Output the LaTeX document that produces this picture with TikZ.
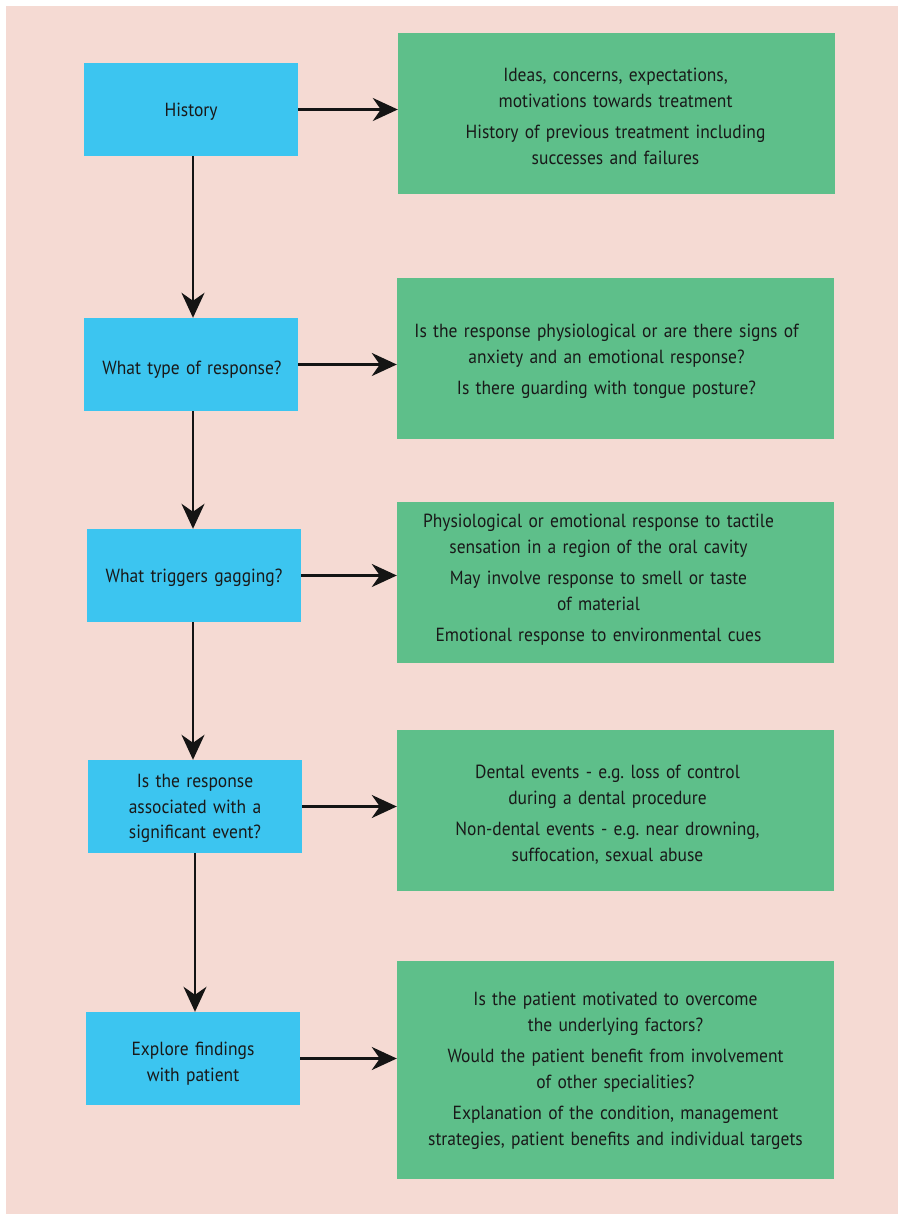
\documentclass[tikz,border=0pt]{standalone}
\usepackage{fontspec}
\setmainfont[FakeStretch=0.92]{PT Sans}
\usetikzlibrary{arrows.meta}
\definecolor{bgpink}{HTML}{F5DAD3}
\definecolor{qblue}{HTML}{3CC5F0}
\definecolor{agreen}{HTML}{5EBF8A}
\definecolor{arrowk}{HTML}{141414}
\begin{document}
\frenchspacing
\begin{tikzpicture}[x=1pt,y=-1pt,
  qbox/.style={fill=qblue, minimum width=214pt, minimum height=93pt, inner sep=0pt},
  abox/.style={fill=agreen, minimum width=437pt, inner sep=0pt},
  qtxt/.style={inner sep=0pt, text width=204pt, align=center, font=\fontsize{19}{25.5}\selectfont, text=black!90},
  atxt/.style={inner sep=0pt, text width=430pt, align=center, font=\fontsize{19}{26}\selectfont, text=black!90},
  flow/.style={draw=arrowk, line width=2.6pt, -{Stealth[length=25pt,width=23pt,inset=8pt]}}]
\useasboundingbox (0,0) rectangle (899,1215);
\fill[white] (0,0) rectangle (899,1215);
\fill[bgpink] (6,6) rectangle (898,1214);

\node[qbox] (h1) at (191,109.5) {};
\node[qbox] (h2) at (191,364.5) {};
\node[qbox] (h3) at (194,575.5) {};
\node[qbox] (h4) at (195,806.5) {};
\node[qbox] (h5) at (193,1058.5) {};
\node[qtxt] (t1) at ([yshift=-2pt]h1.center) {History};
\node[qtxt] (t2) at ([yshift=-5pt,xshift=1pt]h2.center) {What type of response?};
\node[qtxt] (t3) at ([yshift=-2pt]h3.center) {What triggers gagging?};
\node[qtxt] (t4) at ([yshift=-2pt]h4.center) {Is the response\\associated with a\\significant event?};
\node[qtxt] (t5) at ([yshift=-5pt]h5.center) {Explore findings\\with patient};

\node[abox, minimum height=161pt] (r1) at (616.5,113.5) {};
\node[abox, minimum height=161pt] (r2) at (615.5,358.5) {};
\node[abox, minimum height=161pt] (r3) at (615.5,582.5) {};
\node[abox, minimum height=161pt] (r4) at (615.5,810.5) {};
\node[abox, minimum height=218pt] (r5) at (615.5,1070) {};
\node[atxt] (a1) at ([yshift=-3pt,xshift=-1pt]r1.center) {Ideas, concerns, expectations,\\motivations towards treatment\\[5pt]History of previous treatment including\\successes and failures};
\node[atxt] (a2) at ([yshift=-3pt,xshift=-9pt]r2.center) {Is the response physiological or are there signs of\\anxiety and an emotional response?\\[5pt]Is there guarding with tongue posture?};
\node[atxt] (a3) at ([yshift=3pt,xshift=-17pt]r3.center) {Physiological or emotional response to tactile\\sensation in a region of the oral cavity\\[5pt]May involve response to smell or taste\\of material\\[5pt]Emotional response to environmental cues};
\node[atxt] (a4) at ([yshift=-4pt,xshift=-8pt]r4.center) {Dental events - e.g. loss of control\\during a dental procedure\\[5pt]Non-dental events - e.g. near drowning,\\suffocation, sexual abuse};
\node[atxt] (a5) at ([yshift=-1pt]r5.center) {Is the patient motivated to overcome\\the underlying factors?\\[5pt]Would the patient benefit from involvement\\of other specialities?\\[5pt]Explanation of the condition, management\\strategies, patient benefits and individual targets};

\foreach \i in {1,...,5}{
  \draw[flow] (h\i.east) -- (r\i.west |- h\i.east);
}
\draw[flow] ([xshift=2pt]h1.south) -- ([xshift=2pt]h1.south |- h2.north);
\draw[flow] ([xshift=2pt]h2.south) -- ([xshift=2pt]h2.south |- h3.north);
\draw[flow] ([xshift=-1pt]h3.south) -- ([xshift=-1pt]h3.south |- h4.north);
\draw[flow] (h4.south) -- (h4.south |- h5.north);
\end{tikzpicture}
\end{document}
